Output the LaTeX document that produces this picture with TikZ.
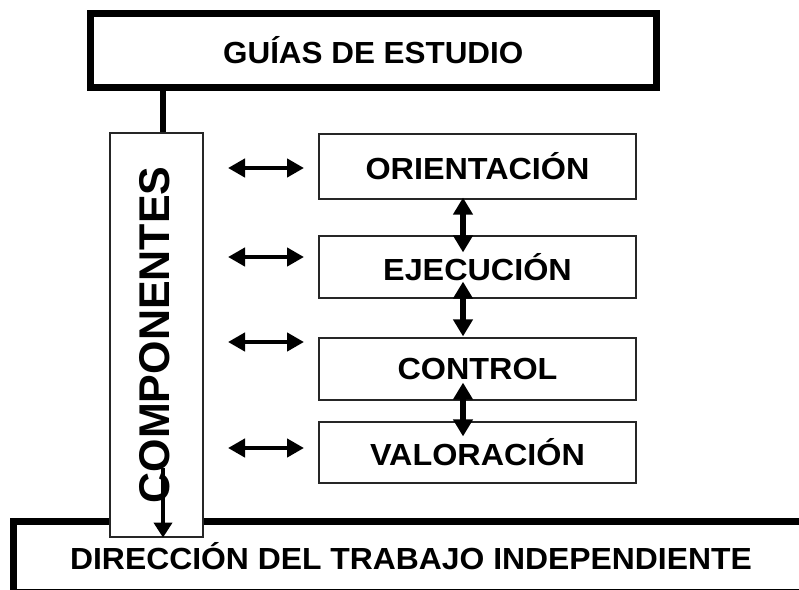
\documentclass[tikz,border=0pt]{standalone}
\usepackage{graphicx}
\usepackage{fontspec}
\setmainfont{Liberation Sans}
\usetikzlibrary{arrows.meta}
\newcommand{\wide}[2]{\scalebox{#1}[1]{#2}}
\begin{document}
\begin{tikzpicture}[x=1pt,y=-1pt,
  thickbox/.style={draw=black,line width=7pt,fill=white,inner sep=0pt},
  thinbox/.style={draw=black!85,line width=1.2pt,fill=white,minimum width=317pt,inner sep=0pt,
     font=\fontsize{30.5}{36}\selectfont\bfseries},
  bigtext/.style={font=\fontsize{30.5}{36}\selectfont\bfseries},
  conn/.style={line width=6pt},
  harrow/.style={line width=4.5pt,{Triangle[length=17pt,width=18pt]}-{Triangle[length=17pt,width=18pt]}},
  varrow/.style={line width=6pt,{Triangle[length=17pt,width=19pt]}-{Triangle[length=17pt,width=19pt]}},
  downarrow/.style={line width=4pt,-{Triangle[length=15pt,width=18pt]}}]
\useasboundingbox (0,0) rectangle (799,589);
\clip (0,0) rectangle (799,589);
\fill[white] (0,0) rectangle (799,589);
% top box
\node[thickbox,bigtext,minimum width=565.5pt,minimum height=73.5pt] (top) at (373.25,50.25) {\wide{1.03}{GUÍAS DE ESTUDIO}};
% bottom box
\node[thickbox,bigtext,minimum width=795pt,minimum height=71pt] (bot) at (411,556.5) {\wide{1.045}{DIRECCIÓN DEL TRABAJO INDEPENDIENTE}};
% components box
\node[draw=black!85,line width=1.2pt,fill=white,minimum width=93pt,minimum height=404pt,inner sep=0pt] (comp) at (156.5,335) {};
\node[rotate=90,font=\fontsize{43}{50}\selectfont\bfseries,inner sep=0pt] (comptxt) at (155,335) {COMPONENTES};
% connector top -> components
\draw[conn] ([xshift=6.5pt]comp.north |- top.south) -- ([xshift=6.5pt]comp.north);
% arrow down into bottom box
\draw[downarrow] ([xshift=6.5pt,yshift=70pt]comp.south) -- ([xshift=6.5pt]comp.south);
% component boxes
\node[thinbox,minimum height=65pt] (ori) at (477.5,166.5) {\wide{1.06}{ORIENTACIÓN}};
\node[thinbox,minimum height=62pt] (eje) at (477.5,267) {\wide{1.06}{EJECUCIÓN}};
\node[thinbox,minimum height=62pt] (con) at (477.5,369) {\wide{1.06}{CONTROL}};
\node[thinbox,minimum height=61pt] (val) at (477.5,452.5) {\wide{1.06}{VALORACIÓN}};
% vertical double arrows
\draw[varrow] ([xshift=-14.5pt,yshift=2pt]ori.south) -- ([xshift=-14.5pt,yshift=-17pt]eje.north);
\draw[varrow] ([xshift=-14.5pt,yshift=17pt]eje.south) -- ([xshift=-14.5pt,yshift=1pt]con.north);
\draw[varrow] ([xshift=-14.5pt,yshift=18pt]con.south) -- ([xshift=-14.5pt,yshift=-15pt]val.north);
% horizontal double arrows
\coordinate (h1l) at (228,168); \coordinate (h1r) at (304,168);
\coordinate (h2l) at (228,257); \coordinate (h2r) at (304,257);
\coordinate (h3l) at (228,342); \coordinate (h3r) at (304,342);
\coordinate (h4l) at (228,448); \coordinate (h4r) at (304,448);
\draw[harrow] (h1l) -- (h1r);
\draw[harrow] (h2l) -- (h2r);
\draw[harrow] (h3l) -- (h3r);
\draw[harrow] (h4l) -- (h4r);
\end{tikzpicture}
\end{document}
